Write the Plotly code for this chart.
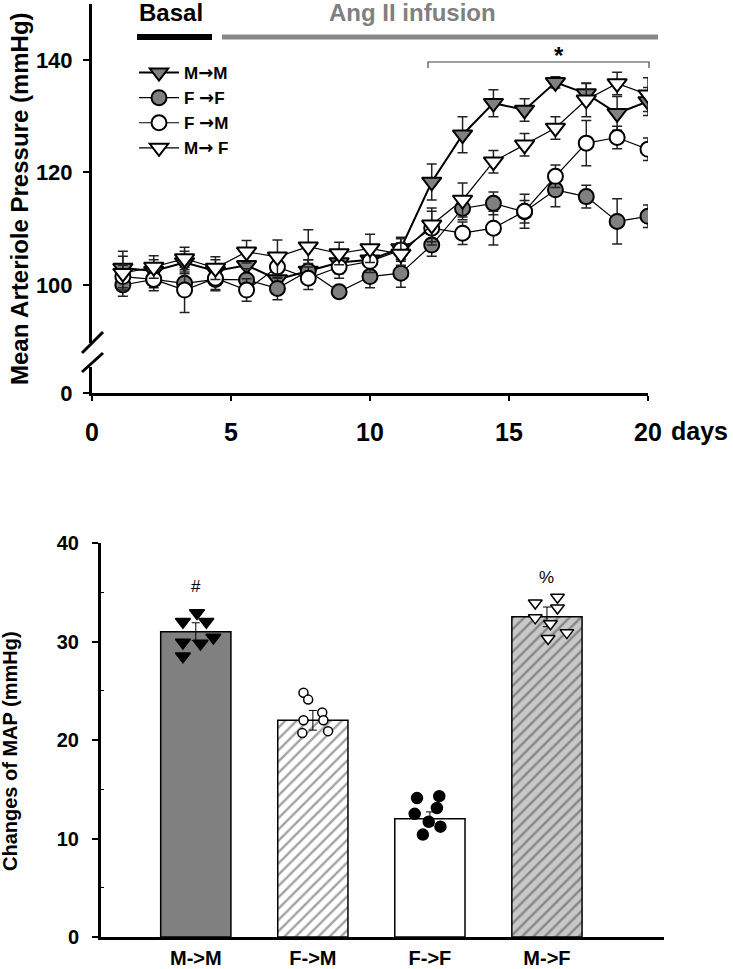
import plotly.graph_objects as go

W, H = 733, 969
FONT = "Arial, Liberation Sans, sans-serif"

# top panel: MAP over time (mean, error)
DAYS = [1.11, 2.22, 3.33, 4.44, 5.56, 6.67, 7.78, 8.89, 10.0,
        11.11, 12.22, 13.33, 14.44, 15.56, 16.67, 17.78, 18.89, 20.0]
MM = [103.0, 102.5, 104.0, 102.5, 103.5, 101.0, 102.5, 104.0, 104.5,
      106.5, 118.3, 126.7, 132.3, 131.1, 136.0, 134.0, 130.5, 132.6]
MM_ERR = [3, 2, 2, 2, 2, 2, 2, 2, 2, 2, 3.2, 3.2, 2.4, 2.0, 1.0, 1.8, 3.0, 2.5]
FF = [100.0, 101.0, 100.3, 101.0, 100.9, 99.4, 102.5, 98.8, 101.5,
      102.1, 107.1, 113.6, 114.5, 113.0, 116.9, 115.7, 111.3, 112.2]
FF_ERR = [2, 1.5, 2, 2, 2, 2, 2, 1, 2, 2.5, 2, 2, 2, 2, 3, 2, 4, 2]
FM = [101.5, 101.0, 99.1, 101.2, 99.1, 103.2, 101.2, 103.2, 104.2,
      106.2, 110.1, 109.2, 110.1, 113.1, 119.3, 125.2, 126.2, 124.1]
FM_ERR = [2, 2, 4, 2, 2, 2, 2, 2, 2, 2, 3, 2, 3, 3, 2, 4, 2, 2]
MF = [102.1, 103.2, 104.7, 103.0, 105.9, 105.0, 106.8, 105.6, 106.5,
      105.5, 110.7, 115.1, 121.9, 124.9, 127.9, 132.9, 135.8, 133.8]
MF_ERR = [3, 2, 2, 2, 2, 3, 3, 2, 2.5, 2, 3, 3, 2, 2, 2, 3, 2, 3]

# bottom panel: change of MAP per group
GROUPS = ["M->M", "F->M", "F->F", "M->F"]
MEANS = [31.0, 22.0, 12.0, 32.5]
SEMS = [0.9, 1.0, 0.7, 1.0]
PTS_MM = [32.0, 32.9, 32.0, 29.9, 29.8, 30.4, 28.5]
OFF_MM = [-0.11, 0.01, 0.09, -0.11, 0.04, 0.15, -0.11]
PTS_FM = [24.8, 24.1, 22.8, 22.0, 22.0, 20.7, 20.9]
OFF_FM = [-0.08, -0.04, 0.08, -0.08, 0.09, -0.09, 0.13]
PTS_FF = [14.1, 14.3, 13.1, 12.5, 11.7, 11.2, 10.4]
OFF_FF = [-0.11, 0.08, 0.06, -0.13, -0.01, 0.09, -0.06]
PTS_MF = [34.5, 33.9, 33.4, 32.4, 31.8, 30.9, 30.3]
OFF_MF = [0.09, -0.10, 0.09, -0.10, 0.03, 0.17, 0.01]


def px(x):
    return x / W


def py(y):
    return 1 - y / H


def bold(size, color="black"):
    return dict(family=FONT, size=size, color=color, weight="bold")


ARROW = "<span style='font-family:DejaVu Sans;font-size:18px'>→</span>"

fig = go.Figure()

series = [
    (f"M{ARROW}M", MM, MM_ERR, "triangle-down", "#808080", 17, 2),
    (f"F {ARROW}F", FF, FF_ERR, "circle", "#808080", 15, 1.2),
    (f"F {ARROW}M", FM, FM_ERR, "circle", "white", 15, 1.2),
    (f"M{ARROW} F", MF, MF_ERR, "triangle-down", "white", 17, 1.2),
]
for name, vals, err, sym, fill, size, lw in series:
    fig.add_trace(go.Scatter(
        x=DAYS, y=vals, name=name, mode="lines+markers",
        line=dict(color="black", width=lw),
        marker=dict(symbol=sym, size=size, color=fill,
                    line=dict(color="black", width=2)),
        error_y=dict(type="data", array=err, color="#222",
                     thickness=1.5, width=5),
        xaxis="x", yaxis="y",
    ))

# lower segment of the broken axis only carries the 0 tick
fig.add_trace(go.Scatter(x=[], y=[], xaxis="x", yaxis="y3", showlegend=False))

fig.add_trace(go.Bar(
    x=list(range(len(GROUPS))), y=MEANS, width=0.6,
    marker=dict(
        color=["#808080", "white", "white", "#c8c8c8"],
        line=dict(color="black", width=1.5),
        pattern=dict(shape=["", "/", "", "/"], fgcolor="black",
                     bgcolor=["#808080", "white", "white", "#c8c8c8"],
                     size=8, solidity=0.3),
    ),
    error_y=dict(type="data", array=SEMS, color="black", thickness=1, width=4),
    xaxis="x2", yaxis="y2", showlegend=False,
))

dots = [
    (0, OFF_MM, PTS_MM, "triangle-down", "black", 13),
    (1, OFF_FM, PTS_FM, "circle", "white", 9),
    (2, OFF_FF, PTS_FF, "circle", "black", 11),
    (3, OFF_MF, PTS_MF, "triangle-down", "white", 12),
]
for idx, offs, vals, sym, fill, size in dots:
    fig.add_trace(go.Scatter(
        x=[idx + o for o in offs], y=vals, mode="markers",
        marker=dict(symbol=sym, size=size, color=fill,
                    line=dict(color="black", width=1.5)),
        xaxis="x2", yaxis="y2", showlegend=False,
    ))

axis_common = dict(showgrid=False, zeroline=False, showline=True,
                   linecolor="black", linewidth=3, ticks="outside",
                   tickcolor="black", tickwidth=2, automargin=False)

fig.update_layout(
    width=W, height=H, margin=dict(l=0, r=0, t=0, b=0),
    paper_bgcolor="white", plot_bgcolor="white",
    font=dict(family=FONT, color="black"),
    xaxis=dict(axis_common, domain=[px(92), px(648)], range=[0, 20],
               anchor="y3", tickvals=[0, 5, 10, 15, 20], ticklen=5,
               tickfont=bold(25), ticklabelstandoff=10),
    yaxis=dict(axis_common, domain=[py(343), py(3.5)], range=[89.7, 150],
               anchor="x", tickvals=[100, 120, 140], ticklen=6,
               tickfont=bold(22), ticklabelstandoff=6),
    yaxis3=dict(axis_common, domain=[py(393), py(367)], range=[0, 4.62],
                anchor="x", tickvals=[0], ticklen=6,
                tickfont=bold(22), ticklabelstandoff=6),
    xaxis2=dict(axis_common, domain=[px(101), px(664)], range=[-0.81, 4.0],
                anchor="y2", tickvals=list(range(len(GROUPS))),
                ticktext=GROUPS, ticks="", tickfont=bold(20),
                ticklabelstandoff=1),
    yaxis2=dict(axis_common, domain=[py(937), py(543)], range=[0, 40],
                anchor="x2", tickvals=[0, 10, 20, 30, 40], ticklen=6,
                tickfont=bold(20), ticklabelstandoff=9,
                minor=dict(ticks="inside", ticklen=3, tickwidth=1,
                           tickvals=[5, 15, 25, 35], tickcolor="black")),
    legend=dict(x=px(134), y=py(55), xanchor="left", yanchor="top",
                font=bold(17), bgcolor="rgba(0,0,0,0)", tracegroupgap=0,
                itemwidth=40),
    showlegend=True,
)

shapes = [
    # axis break slashes
    dict(type="line", xref="paper", yref="paper",
         x0=px(82), y0=py(353), x1=px(103), y1=py(332),
         line=dict(color="black", width=3)),
    dict(type="line", xref="paper", yref="paper",
         x0=px(82), y0=py(372), x1=px(103), y1=py(353),
         line=dict(color="black", width=3)),
    # period bars
    dict(type="line", xref="paper", yref="paper",
         x0=px(137), y0=py(37), x1=px(212), y1=py(37),
         line=dict(color="black", width=6)),
    dict(type="line", xref="paper", yref="paper",
         x0=px(222), y0=py(37), x1=px(658), y1=py(37),
         line=dict(color="#888888", width=5)),
    # significance bracket
    dict(type="path", xref="paper", yref="paper",
         path=f"M {px(428)} {py(68)} L {px(428)} {py(62)} "
              f"L {px(649)} {py(62)} L {px(649)} {py(68)}",
         line=dict(color="#444", width=1.2)),
]
fig.update_layout(shapes=shapes)

annotations = [
    dict(text="Basal", x=px(137), y=py(12), xanchor="left", font=bold(24)),
    dict(text="Ang II infusion", x=px(412), y=py(12), font=bold(24, "#808080")),
    dict(text="*", x=px(559), y=py(55), font=bold(24)),
    dict(text="days", x=px(669), y=py(431), xanchor="left", font=bold(25)),
    dict(text="Mean Arteriole Pressure (mmHg)", x=px(20), y=py(199),
         textangle=-90, font=bold(24)),
    dict(text="Changes of MAP (mmHg)", x=px(10), y=py(751),
         textangle=-90, font=bold(20)),
    dict(text="#", x=0, y=35.6, xref="x2", yref="y2",
         font=dict(family=FONT, size=17)),
    dict(text="%", x=3, y=36.5, xref="x2", yref="y2",
         font=dict(family=FONT, size=17)),
]
for a in annotations:
    a.setdefault("xref", "paper")
    a.setdefault("yref", "paper")
    a.setdefault("xanchor", "center")
    a["yanchor"] = "middle"
    a["showarrow"] = False
fig.update_layout(annotations=annotations)

fig.write_html("out.html", config={"displayModeBar": False},
               post_script="document.body.style.margin='0';")
